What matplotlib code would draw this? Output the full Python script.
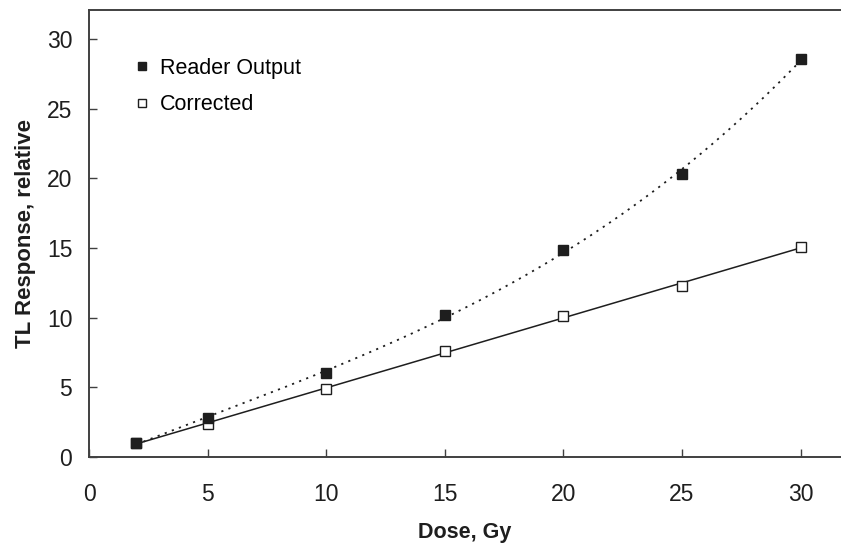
import numpy as np
import matplotlib
matplotlib.use("Agg")
import matplotlib.pyplot as plt

plt.rcParams['font.family'] = ['Liberation Sans', 'DejaVu Sans']

# === Data ===
dose = [2, 5, 10, 15, 20, 25, 30]
reader_output = [1.0, 2.8, 6.0, 10.2, 14.9, 20.3, 28.6]
corrected = [1.0, 2.4, 4.85, 7.6, 10.1, 12.3, 15.1]
x_ticks = [0, 5, 10, 15, 20, 25, 30]
y_ticks = [0, 5, 10, 15, 20, 25, 30]

INK = "#1e1e1e"
SPINE = "#404040"


def main():
    fig = plt.figure(figsize=(8.41, 5.44), dpi=100)
    ax = fig.add_axes([89 / 841, 87 / 544, 752 / 841, 447 / 544])

    x = np.array(dose, dtype=float)
    xs = np.linspace(x.min(), x.max(), 200)

    # trendlines: polynomial for raw reader output, linear for corrected
    p_raw = np.polyfit(x, reader_output, 3)
    p_cor = np.polyfit(x, corrected, 1)
    ax.plot(xs, np.polyval(p_raw, xs), color=INK, lw=1.3,
            linestyle=(0, (1.2, 3.0)), zorder=2)
    ax.plot(xs, np.polyval(p_cor, xs), color=INK, lw=1.1, zorder=2)

    ax.plot(dose, corrected, linestyle="none", marker="s", ms=7.5,
            mfc="white", mec=INK, mew=1.0, label="Corrected", zorder=3)
    ax.plot(dose, reader_output, linestyle="none", marker="s", ms=7.5,
            mfc=INK, mec=INK, label="Reader Output", zorder=4)

    ax.set_xlim(0, 31.7)
    ax.set_ylim(0, 32.1)
    ax.set_xticks(x_ticks)
    ax.set_yticks(y_ticks)
    ax.tick_params(direction="in", length=6, width=1.0, color=SPINE,
                   labelsize=16.5, labelcolor=INK)
    ax.tick_params(axis="y", pad=12)
    ax.tick_params(axis="x", pad=19)

    for side in ("left", "bottom", "top"):
        ax.spines[side].set_color(SPINE)
        ax.spines[side].set_linewidth(1.4)
    ax.spines["right"].set_visible(False)

    ax.set_xlabel("Dose, Gy", fontsize=15.5, fontweight="bold", color=INK, labelpad=11)
    ax.set_ylabel("TL Response, relative", fontsize=16, fontweight="bold",
                  color=INK, labelpad=8)

    handles, labels = ax.get_legend_handles_labels()
    ax.legend(handles[::-1], labels[::-1], loc="upper left",
              bbox_to_anchor=(136 / 841, 1 - 58 / 544),
              bbox_transform=fig.transFigure, frameon=False, fontsize=15.5,
              handlelength=0.6, handletextpad=0.5, labelspacing=0.7,
              borderpad=0, borderaxespad=0, markerscale=0.8)

    fig.savefig("out.png", dpi=100)


if __name__ == "__main__":
    main()
